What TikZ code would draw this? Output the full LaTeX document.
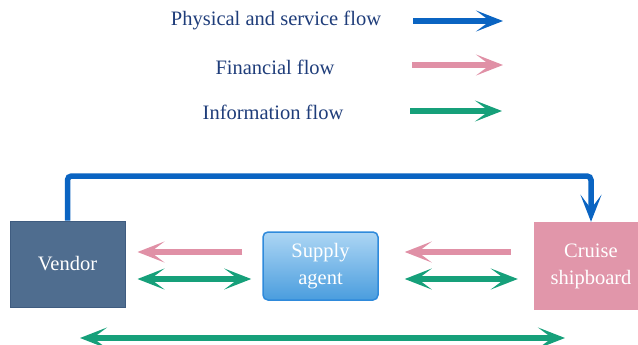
\documentclass[tikz,border=0pt]{standalone}
\usepackage{fontspec}
\setmainfont{Liberation Serif}
\usetikzlibrary{arrows.meta}
\definecolor{flowblue}{HTML}{0A64C2}
\definecolor{flowpink}{HTML}{E090A6}
\definecolor{flowgreen}{HTML}{16A07A}
\definecolor{legendtext}{HTML}{1F3D7A}
\definecolor{vendorfill}{HTML}{4F6D8F}
\definecolor{vendorline}{HTML}{3F5C80}
\definecolor{cruisefill}{HTML}{E196AA}
\definecolor{agentline}{HTML}{2F8ADB}
\definecolor{agenttop}{HTML}{ADD6F4}
\definecolor{agentbot}{HTML}{4A9DDE}

\begin{document}
\begin{tikzpicture}[x=1pt,y=-1pt,
        >={Stealth[length=27pt,width=21pt,inset=14pt]},
        flow/.style={line width=5.5pt},
        physflow/.style={flow,draw=flowblue},
        finflow/.style={flow,draw=flowpink},
        infoflow/.style={flow,draw=flowgreen},
        legend/.style={text=legendtext,font=\fontsize{20.5}{24}\selectfont},
        box/.style={minimum width=115pt,inner sep=0pt,align=center,
            text=white,font=\fontsize{20.5}{27}\selectfont}]
\useasboundingbox (0,0) rectangle (638,345);

% legend
\node[legend] (phys) at (276,20) {Physical and service flow};
\node[legend] (fin) at (275,67) {Financial flow};
\node[legend] (info) at (273,112) {Information flow};
\coordinate (physL) at (413,21);
\coordinate (physR) at (503,21);
\coordinate (finL) at (412,65);
\coordinate (finR) at (503,65);
\coordinate (infoL) at (410,111);
\coordinate (infoR) at (502,111);
\draw[physflow,->] (physL) -- (physR);
\draw[finflow,->] (finL) -- (finR);
\draw[infoflow,->] (infoL) -- (infoR);

% actors
\node[box,minimum height=86pt,fill=vendorfill,draw=vendorline,line width=1pt]
    (vendor) at (67.5,264) {Vendor};
\node[box,minimum height=68pt,rounded corners=5pt,draw=agentline,line width=1.5pt,
    top color=agenttop,bottom color=agentbot] (agent) at (320.5,266) {Supply\\agent};
\node[box,minimum width=114pt,minimum height=88pt,fill=cruisefill]
    (cruise) at (591,266) {Cruise\\shipboard};

% flows
\coordinate (top) at (0,176);
\draw[physflow,->,rounded corners=4pt] (vendor.north) -- (vendor.north |- top) -| (cruise.north);
\draw[finflow,->,shorten <=20pt,shorten >=12pt] (agent.west |- 0,252) -- (vendor.east |- 0,252);
\draw[infoflow,<->,shorten <=12pt,shorten >=11pt] (vendor.east |- 0,279) -- (agent.west |- 0,279);
\draw[finflow,->,shorten <=23pt,shorten >=26pt] (cruise.west |- 0,252) -- (agent.east |- 0,252);
\draw[infoflow,<->,shorten <=26pt,shorten >=16pt] (agent.east |- 0,279) -- (cruise.west |- 0,279);
\coordinate (bottomL) at (80,338);
\coordinate (bottomR) at (565,338);
\draw[infoflow,<->] (bottomL) -- (bottomR);
\end{tikzpicture}
\end{document}
